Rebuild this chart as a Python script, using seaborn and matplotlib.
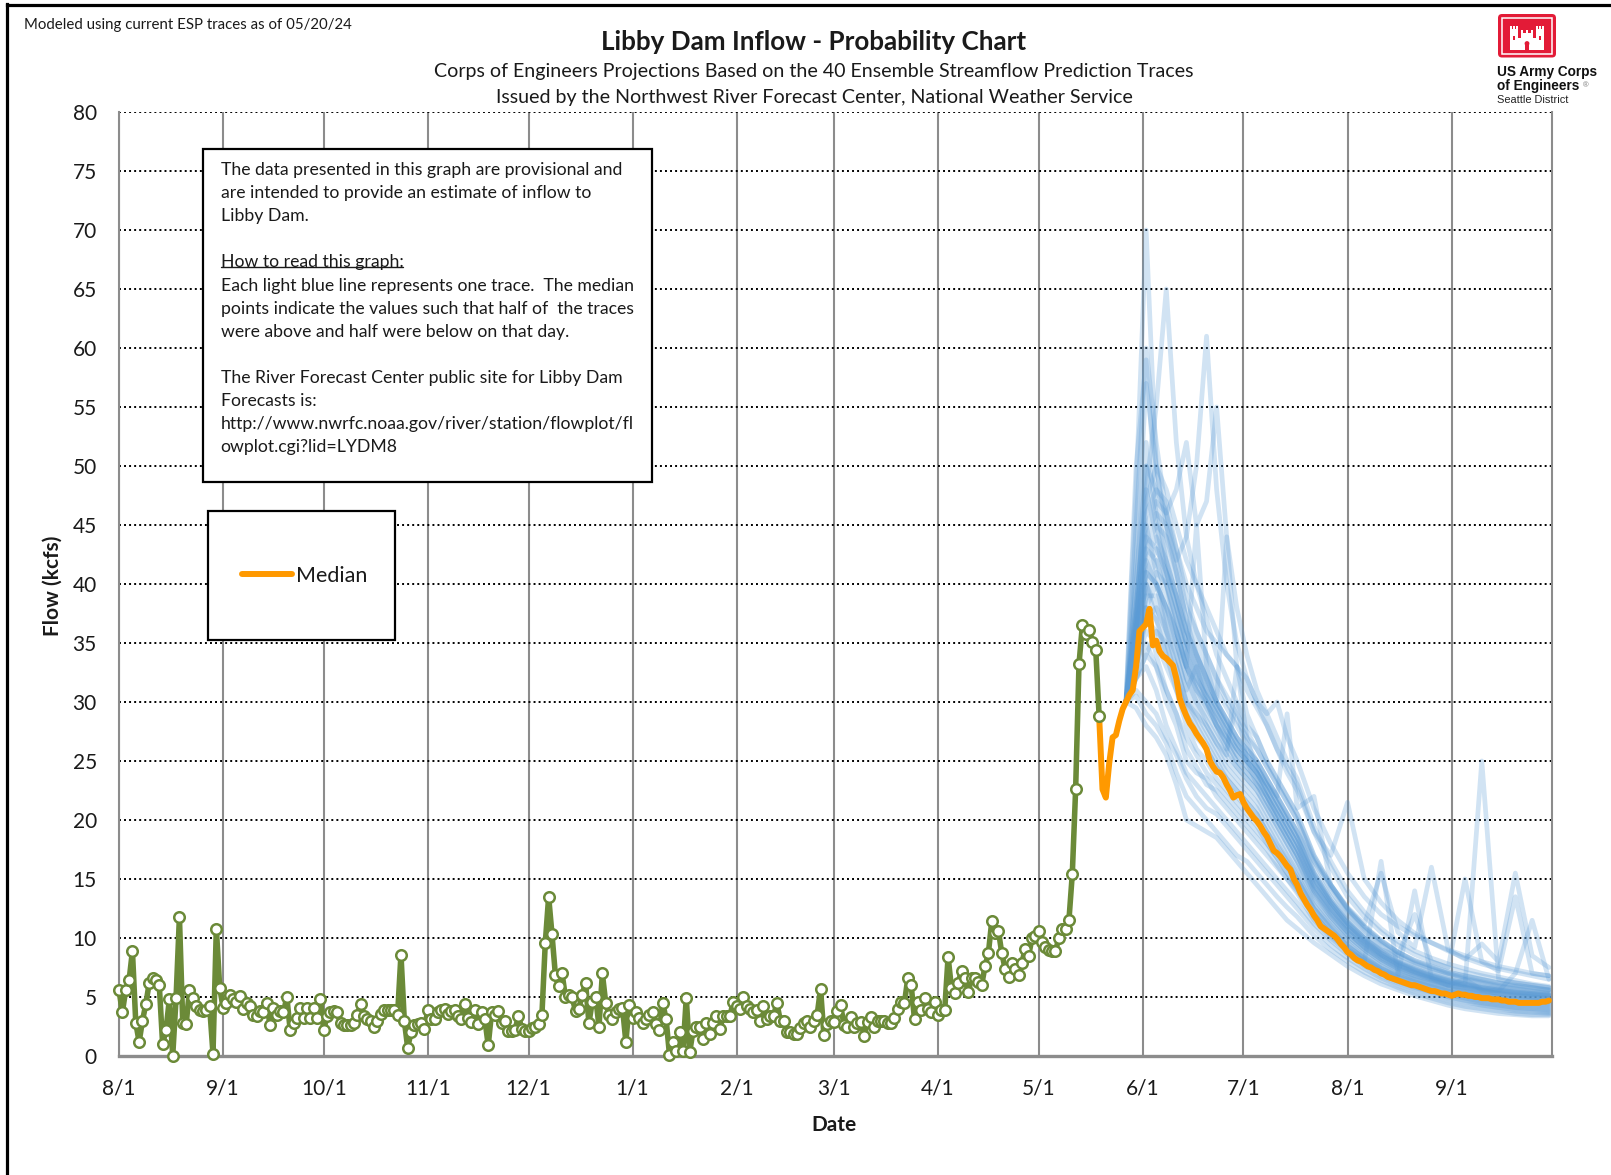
import numpy as np
import pandas as pd
import matplotlib
matplotlib.use("Agg")
import matplotlib.pyplot as plt
import matplotlib.dates as mdates
import seaborn as sns
from matplotlib.patches import Rectangle, FancyBboxPatch, Circle
from matplotlib.lines import Line2D
from matplotlib.ticker import MultipleLocator, FuncFormatter

# ---------------- DATA ----------------
OBS_START = "2023-08-01"
obs_aug = [5.6, 3.7, 5.6, 6.4, 8.9, 2.8, 1.2, 3.0, 4.4, 6.2, 6.6, 6.4, 6.0, 1.0, 2.2, 4.8, 0.0, 4.9, 11.8, 2.8,
           2.7, 5.6, 4.9, 4.2, 3.9, 3.8, 3.9, 4.2, 0.2, 10.8, 5.8]
obs_sep = [4.1, 4.5, 5.2, 4.8, 4.6, 5.1, 4.0, 4.5, 4.2, 3.5, 3.4, 3.8, 3.7, 4.5, 2.6, 4.1, 3.5, 3.8, 3.7, 5.0,
           2.2, 2.8, 3.2, 4.1, 3.2, 4.1, 3.2, 4.1, 3.2, 4.8]
obs_oct = [2.2, 3.4, 3.7, 3.8, 3.7, 2.8, 2.6, 2.6, 2.6, 2.8, 3.5, 4.4, 3.4, 3.1, 3.0, 2.5, 3.0, 3.6, 3.9, 3.9,
           3.9, 3.9, 3.5, 8.6, 3.0, 0.7, 2.0, 2.6, 2.7, 2.8, 2.3]
obs_nov = [3.9, 3.1, 3.1, 3.7, 3.9, 4.0, 3.6, 3.8, 3.9, 3.4, 3.1, 4.4, 3.2, 2.9, 3.9, 2.7, 3.7, 3.1, 0.9, 3.7,
           3.5, 3.8, 2.8, 3.0, 2.1, 2.1, 2.2, 3.4, 2.3, 2.1]
obs_dec = [2.1, 2.4, 2.5, 2.7, 3.5, 9.6, 13.5, 10.3, 6.9, 5.9, 7.0, 5.0, 5.2, 5.0, 3.8, 4.0, 5.2, 6.2, 2.8, 4.6,
           5.0, 2.5, 7.0, 4.5, 3.5, 3.1, 3.7, 4.0, 4.1, 1.2, 4.3]
obs_jan = [3.2, 3.7, 3.2, 2.8, 3.1, 3.5, 3.7, 2.7, 2.2, 4.5, 3.1, 0.1, 1.2, 0.4, 2.0, 0.4, 4.9, 0.3, 2.1, 2.5,
           2.5, 1.4, 2.8, 1.9, 2.8, 3.4, 2.3, 3.4, 3.4, 3.4, 4.6]
obs_feb = [4.2, 4.0, 5.0, 4.2, 4.0, 3.7, 3.9, 3.0, 4.2, 3.1, 3.4, 3.4, 4.5, 3.0, 3.0, 2.0, 2.0, 1.9, 1.9, 2.4,
           2.8, 3.0, 2.5, 3.0, 3.5, 5.7, 1.8, 2.7, 3.0]
obs_mar = [2.9, 3.8, 4.3, 2.6, 2.5, 3.3, 2.5, 2.8, 2.9, 1.7, 2.9, 3.3, 2.5, 3.0, 3.0, 3.0, 2.8, 2.8, 3.2, 4.0,
           4.6, 4.5, 6.6, 6.0, 3.1, 4.6, 3.9, 4.9, 4.0, 3.7, 4.6]
obs_apr = [3.5, 3.9, 3.9, 8.4, 5.8, 5.3, 6.2, 7.2, 6.6, 5.4, 6.6, 6.6, 6.3, 6.0, 7.6, 8.7, 11.4, 10.4, 10.6, 8.7,
           7.4, 6.7, 7.9, 7.4, 6.9, 7.9, 9.1, 8.5, 10.0, 10.2]
obs_may = [10.6, 9.7, 9.2, 9.0, 8.9, 8.9, 10.0, 10.8, 10.8, 11.5, 15.4, 22.6, 33.2, 36.5, 35.8, 36.1, 35.1, 34.4, 28.8]

MEDIAN_START = "2024-05-19"
median_may = [28.8, 22.6, 21.9, 24.8, 27.0, 27.2, 28.4, 29.4, 30.0, 30.6, 31.0, 33.0, 36.0]
median_jun = [36.3, 36.6, 37.9, 34.8, 35.2, 34.3, 33.9, 33.7, 33.4, 33.1, 32.0, 30.3, 29.5, 28.8, 28.2, 27.8, 27.3,
              26.9, 26.5, 26.0, 25.0, 24.5, 24.1, 24.0, 23.6, 23.0, 22.5, 21.9, 22.1, 22.2]
median_jul = [21.5, 21.0, 20.6, 20.2, 19.9, 19.5, 19.0, 18.6, 18.0, 17.4, 17.2, 16.9, 16.5, 16.1, 15.8, 15.0, 14.5,
              13.8, 13.3, 12.8, 12.4, 11.9, 11.5, 11.0, 10.8, 10.6, 10.4, 10.2, 9.9, 9.5, 9.2]
median_aug = [8.8, 8.6, 8.3, 8.1, 8.0, 7.8, 7.6, 7.5, 7.3, 7.2, 7.0, 6.9, 6.7, 6.6, 6.5, 6.4, 6.3, 6.2, 6.1, 6.0,
              6.0, 5.9, 5.8, 5.7, 5.6, 5.5, 5.5, 5.4, 5.3, 5.3, 5.2]
median_sep = [5.1, 5.2, 5.3, 5.2, 5.2, 5.1, 5.1, 5.0, 5.0, 4.9, 4.9, 4.9, 4.8, 4.8, 4.8, 4.7, 4.7, 4.6, 4.6, 4.6,
              4.5, 4.5, 4.5, 4.5, 4.5, 4.5, 4.5, 4.6, 4.6, 4.7]

TRACE_DATES = ["2024-05-27", "2024-05-30", "2024-06-02", "2024-06-05", "2024-06-08", "2024-06-11", "2024-06-14",
               "2024-06-17", "2024-06-20", "2024-06-23", "2024-06-26", "2024-06-29", "2024-07-02", "2024-07-05",
               "2024-07-08", "2024-07-11", "2024-07-14", "2024-07-17", "2024-07-22", "2024-07-27", "2024-08-01",
               "2024-08-06", "2024-08-11", "2024-08-16", "2024-08-21", "2024-08-26", "2024-08-31", "2024-09-05",
               "2024-09-10", "2024-09-15", "2024-09-20", "2024-09-25", "2024-09-30"]
TRACES = [
    [30, 29.5, 28, 27, 25.5, 23, 20, 19.5, 19, 18.5, 17.5, 16.5, 15.5, 14.5, 13.5, 12.5, 11.5, 10.8, 9.6, 8.6, 7.6, 6.8, 6.1, 5.6, 5.1, 4.7, 4.3, 4.0, 3.8, 3.6, 3.5, 3.4, 3.4],
    [30, 30.5, 29, 28, 26.5, 24, 22, 21, 20, 19, 18, 17, 16.5, 15.5, 14.5, 13.5, 12.6, 11.8, 10.2, 9.0, 8.0, 7.1, 6.4, 5.8, 5.3, 4.9, 4.5, 4.2, 4.0, 3.8, 3.6, 3.5, 3.5],
    [30, 31, 30, 29, 27, 25.5, 23.5, 22, 21, 20.5, 19.5, 18.5, 17.5, 16.5, 15.5, 14.5, 13.5, 12.5, 10.8, 9.4, 8.3, 7.4, 6.6, 6.0, 5.5, 5.1, 4.7, 4.4, 4.2, 4.0, 3.8, 3.7, 3.6],
    [30, 32, 33, 31, 28, 26, 24, 23, 22, 21, 20, 19, 18, 17, 16, 15, 14, 13, 11.2, 9.8, 8.6, 7.6, 6.8, 6.2, 5.7, 5.3, 4.9, 4.6, 4.3, 4.1, 3.9, 3.8, 3.7],
    [30, 33, 35, 33, 30, 28, 25, 24, 23.5, 22, 21, 20, 19, 18, 17, 16, 15, 13.8, 11.5, 10.0, 8.8, 7.8, 7.0, 6.3, 5.8, 5.4, 5.0, 4.7, 4.4, 4.2, 4.0, 3.9, 3.8],
    [30, 34, 38, 34, 31, 29, 26, 24.5, 23, 22.5, 21.5, 20.5, 19.5, 18.5, 17.5, 16.2, 15, 14, 11.8, 10.2, 9.0, 8.0, 7.1, 6.4, 5.9, 5.5, 5.1, 4.8, 4.5, 4.3, 4.1, 4.0, 3.9],
    [30, 33, 36, 35, 33, 31, 28, 26, 25, 23.5, 22.5, 21.5, 20.5, 19.5, 18, 16.8, 15.5, 14.3, 12.0, 10.4, 9.1, 8.1, 7.2, 6.5, 6.0, 5.6, 5.2, 4.9, 4.6, 4.4, 4.2, 4.1, 4.0],
    [30, 35, 40, 37, 34, 31, 29, 27, 26, 24.5, 23, 22, 21, 20, 18.5, 17.2, 16, 14.8, 12.4, 10.7, 9.3, 8.2, 7.3, 6.6, 6.1, 5.7, 5.3, 5.0, 4.7, 4.5, 4.3, 4.2, 4.1],
    [30, 32, 34, 36, 35, 32, 30, 28, 26.5, 25, 23.5, 22.5, 21.5, 20.5, 19, 17.5, 16.2, 15, 12.5, 10.9, 9.4, 8.3, 7.4, 6.7, 6.2, 5.8, 5.4, 5.1, 4.8, 4.6, 4.4, 4.3, 4.2],
    [30, 36, 42, 40, 36, 33, 30, 28.5, 27, 25.5, 24, 23, 22, 21, 19.5, 18, 16.7, 15.3, 12.8, 11.1, 9.6, 8.4, 7.5, 6.8, 6.3, 5.9, 5.5, 5.2, 4.9, 4.7, 4.5, 4.4, 4.3],
    [30, 34, 37, 38, 36, 34, 31, 29, 27.5, 26, 24.5, 23.5, 22.5, 21.5, 20, 18.5, 17, 15.6, 13.0, 11.3, 9.8, 8.6, 7.6, 6.9, 6.4, 6.0, 5.6, 5.3, 5.0, 4.8, 4.6, 4.5, 4.4],
    [30, 37, 45, 41, 37, 35, 32, 30, 28, 26.5, 25, 24, 23, 22, 20.5, 19, 17.5, 16, 13.3, 11.5, 10.0, 8.8, 7.8, 7.0, 6.5, 6.1, 5.7, 5.4, 5.1, 4.9, 4.7, 4.6, 4.5],
    [30, 33, 38, 40, 38, 35, 33, 31, 29, 27.5, 26, 24.5, 23.5, 22.5, 21, 19.5, 18, 16.5, 13.6, 11.8, 10.2, 9.0, 8.0, 7.2, 6.6, 6.2, 5.8, 5.5, 5.2, 5.0, 4.8, 4.7, 4.6],
    [30, 38, 48, 44, 40, 36, 33, 31, 30, 28, 26.5, 25, 24, 23, 21.5, 20, 18.5, 17, 14.0, 12.1, 10.5, 9.2, 8.2, 7.4, 6.8, 6.4, 6.0, 5.7, 5.4, 5.2, 5.0, 4.9, 4.8],
    [30, 35, 41, 43, 41, 38, 34, 32, 30.5, 29, 27, 25.5, 24.5, 23.5, 22, 20.5, 19, 17.5, 14.4, 12.4, 10.8, 9.5, 8.4, 7.6, 7.0, 6.5, 6.1, 5.8, 5.5, 5.3, 5.1, 5.0, 4.9],
    [30, 40, 52, 46, 42, 38, 35, 33, 31, 29.5, 28, 26.5, 25, 24, 22.5, 21, 19.5, 18, 14.8, 12.7, 11.0, 9.7, 8.6, 7.8, 7.2, 6.7, 6.3, 6.0, 5.7, 5.5, 5.3, 5.2, 5.1],
    [30, 36, 43, 45, 44, 41, 37, 34, 32, 30, 28.5, 27, 26, 25, 23.5, 22, 20.5, 19, 15.5, 13.2, 11.4, 10.0, 8.9, 8.0, 7.4, 6.9, 6.5, 6.2, 5.9, 5.7, 5.5, 5.3, 5.2],
    [30, 42, 57, 50, 45, 41, 37, 35, 33, 31, 29.5, 28, 26.5, 25, 23.5, 22, 20.5, 19, 15.8, 13.5, 11.7, 10.3, 9.1, 8.2, 7.6, 7.1, 6.7, 6.4, 6.1, 5.8, 5.6, 5.4, 5.3],
    [30, 37, 46, 48, 47, 43, 39, 36, 34, 32, 30, 28.5, 27, 26, 24.5, 23, 21.5, 20, 16.5, 14.0, 12.0, 10.6, 9.4, 8.5, 7.8, 7.3, 6.9, 6.5, 6.2, 5.9, 5.7, 5.5, 5.4],
    [30, 45, 60, 52, 46, 42, 38, 36, 34, 32, 30.5, 29, 27.5, 26, 24.5, 23, 21.5, 20, 16.8, 14.3, 12.3, 10.8, 9.6, 8.6, 7.9, 7.4, 7.0, 6.6, 6.3, 6.0, 5.8, 5.6, 5.5],
    [30, 34, 40, 38, 36, 34, 31, 33, 30, 28, 26, 30, 25, 23, 22, 20, 18.5, 17, 14, 12, 10.5, 9.2, 8.2, 7.4, 7.0, 6.5, 6.0, 6.5, 5.6, 5.3, 5.2, 5.0, 4.9],
    [30, 48, 70, 50, 44, 40, 36, 34, 32, 30, 28.5, 27, 25.5, 24.5, 23, 21.5, 20, 18.5, 15.5, 13.2, 11.4, 10.0, 8.9, 8.0, 7.4, 6.9, 6.5, 6.1, 5.8, 5.6, 5.4, 5.2, 5.1],
    [30, 38, 48, 55, 65, 52, 44, 40, 37, 34, 32, 30, 28, 27, 25, 23.5, 22, 20.5, 17, 14.5, 12.5, 11.0, 9.8, 8.8, 8.0, 7.5, 7.0, 6.7, 6.4, 6.1, 5.9, 5.7, 5.6],
    [30, 36, 44, 46, 45, 42, 44, 50, 61, 48, 40, 35, 32, 30, 28, 26, 24.5, 23, 19, 16, 13.5, 11.8, 10.5, 9.4, 8.6, 8.0, 7.5, 7.1, 6.8, 6.5, 6.2, 6.0, 5.8],
    [30, 37, 45, 47, 46, 48, 52, 45, 47, 55, 44, 38, 34, 31, 29, 27, 25, 23.5, 19.5, 16.5, 14, 12.2, 10.8, 9.7, 8.9, 8.3, 7.8, 7.4, 7.0, 6.7, 6.4, 6.1, 5.9],
    [30, 38, 47, 50, 48, 45, 42, 40, 38, 36, 34, 33, 31, 29.5, 28, 26, 24, 22.5, 19, 17, 21.5, 15, 13, 11.5, 10.4, 9.6, 8.9, 8.3, 7.8, 7.4, 7.1, 6.8, 6.5],
    [30, 35, 42, 44, 42, 39, 36, 34, 32, 30, 28.5, 27, 26, 25, 23.5, 22, 20.5, 19, 16.5, 14.5, 12.6, 11.2, 15.5, 10.5, 9.2, 16, 9.0, 8.2, 9.5, 8.0, 15.5, 8.5, 7.5],
    [30, 33, 39, 41, 40, 37, 34, 32, 30, 28.5, 27, 25.5, 24.5, 23.5, 22, 20.5, 19, 17.5, 14.5, 12.5, 10.8, 9.5, 8.5, 7.7, 7.1, 6.6, 6.2, 6.0, 25, 6.5, 6.2, 6.0, 5.8],
    [30, 36, 41, 40, 38, 36, 33, 31.5, 30, 28, 27, 26, 25, 24, 22.5, 21, 19.5, 18, 15, 13, 11.3, 10.0, 9.0, 8.5, 12.0, 8.0, 7.5, 15, 8.0, 7.2, 13.5, 7.0, 6.8],
    [30, 40, 50, 48, 46, 43, 40, 38, 36, 35, 34, 33, 32, 30, 29, 30, 27, 25, 21, 18, 15.5, 13.5, 12, 11, 10.2, 9.6, 9.0, 8.5, 8.0, 7.6, 7.3, 7.0, 6.8],
    [30, 34, 38, 37, 35, 33, 30, 29, 28, 26.5, 25.5, 33, 27, 24, 22, 20.5, 19, 17.5, 14.5, 12.5, 10.8, 9.5, 8.5, 7.7, 7.1, 6.6, 6.2, 5.9, 5.6, 5.4, 5.2, 5.1, 5.0],
    [30, 36, 43, 42, 40, 37, 34, 32, 30.5, 29, 27.5, 26, 25, 24, 23, 22, 29, 21, 22, 14.5, 12.5, 11.0, 9.8, 8.8, 8.1, 7.6, 7.1, 6.8, 6.5, 6.2, 6.0, 5.8, 5.6],
    [30, 33, 37, 36, 34, 32, 29, 27.5, 26, 24.5, 23.5, 22.5, 21.5, 20.5, 19, 17.8, 16.5, 15, 12.5, 10.8, 9.3, 8.3, 7.4, 6.8, 14, 6.6, 6.0, 5.6, 5.3, 5.1, 4.9, 4.8, 4.7],
    [30, 34, 39, 39, 37, 35, 32, 30, 28.5, 27, 25.5, 24.5, 23.5, 22.5, 21, 19.5, 18, 16.5, 13.8, 11.8, 10.2, 9.0, 8.0, 7.3, 6.8, 6.4, 6.0, 5.8, 5.6, 5.5, 7.0, 11.5, 6.5],
    [30, 36, 50, 45, 41, 38, 35, 33, 31, 29.5, 28, 26.5, 25.5, 24.5, 23, 21.5, 20, 18.5, 15.3, 13, 11.2, 9.8, 8.7, 7.9, 7.3, 6.8, 6.4, 6.1, 5.8, 5.6, 5.4, 5.3, 5.2],
    [30, 50, 59, 47, 42, 39, 35, 33, 31, 29, 27.5, 26, 25, 24, 22.5, 21, 19.5, 18, 15, 12.8, 11, 9.7, 8.6, 7.8, 7.2, 6.7, 6.3, 6.0, 5.7, 5.5, 5.3, 5.2, 5.1],
    [30, 35, 40, 42, 39, 36, 33, 31, 29.5, 28, 26.5, 25, 24, 23, 21.5, 20, 18.5, 17, 14.2, 12.2, 10.5, 9.3, 8.3, 7.5, 6.9, 6.5, 6.1, 5.8, 5.5, 5.3, 5.1, 5.0, 4.9],
    [30, 37, 44, 43, 41, 39, 36, 34, 32, 30, 44, 33, 29, 27, 25, 23.5, 22, 20.5, 17, 14.5, 12.4, 10.9, 9.7, 8.8, 8.1, 7.6, 7.1, 6.8, 6.5, 6.2, 6.0, 5.8, 5.6],
    [30, 34, 41, 40, 38, 36, 33, 45, 33, 30, 28, 26.5, 25.5, 24.5, 23, 21.5, 20, 18.5, 15.2, 13, 11.2, 9.8, 8.7, 7.9, 7.3, 6.8, 6.4, 6.1, 5.8, 5.6, 5.4, 5.3, 5.2],
    [30, 32, 34, 33, 31, 29, 27, 25.5, 24, 23, 22, 21, 20, 19, 18, 16.8, 15.5, 14.2, 12, 10.3, 9.0, 8.0, 16.5, 7.0, 6.5, 6.1, 5.7, 5.4, 5.2, 5.0, 4.8, 4.7, 4.6],
]

Y_TICKS = list(range(0, 81, 5))
TITLE = "Libby Dam Inflow - Probability Chart"
SUBTITLE_1 = "Corps of Engineers Projections Based on the 40 Ensemble Streamflow Prediction Traces"
SUBTITLE_2 = "Issued by the Northwest River Forecast Center, National Weather Service"
NOTE = "Modeled using current ESP traces as of 05/20/24"
INFO_LINES = [
    "The data presented in this graph are provisional and",
    "are intended to provide an estimate of inflow to",
    "Libby Dam.",
    "",
    "How to read this graph:",
    "Each light blue line represents one trace.  The median",
    "points indicate the values such that half of  the traces",
    "were above and half were below on that day.",
    "",
    "The River Forecast Center public site for Libby Dam",
    "Forecasts is:",
    "http://www.nwrfc.noaa.gov/river/station/flowplot/fl",
    "owplot.cgi?lid=LYDM8",
]

# ---------------- TABLES ----------------
obs_values = obs_aug + obs_sep + obs_oct + obs_nov + obs_dec + obs_jan + obs_feb + obs_mar + obs_apr + obs_may
obs_df = pd.DataFrame({"date": pd.date_range(OBS_START, periods=len(obs_values), freq="D"),
                       "flow": obs_values})
median_values = median_may + median_jun + median_jul + median_aug + median_sep
median_df = pd.DataFrame({"date": pd.date_range(MEDIAN_START, periods=len(median_values), freq="D"),
                          "flow": median_values})
rows = []
for i, tr in enumerate(TRACES):
    assert len(tr) == len(TRACE_DATES), (i, len(tr))
    for d, v in zip(TRACE_DATES, tr):
        rows.append((pd.Timestamp(d), v, i))
trace_df = pd.DataFrame(rows, columns=["date", "flow", "trace"])

# ---------------- STYLE ----------------
W, H = 1611, 1175
sns.set_style("white")
plt.rcParams["font.family"] = ["Lato", "DejaVu Sans"]
BLUE = "#5B9BD5"
ORANGE = "#FF9900"
GREEN = "#6B8A38"
GRAY = "#8C8C8C"
TXT = "#1a1a1a"

fig = plt.figure(figsize=(W / 100, H / 100), dpi=100)
fig.patch.set_facecolor("white")
X0, X1, Y0, Y1 = 119, 1552, 1056, 112
ax = fig.add_axes([X0 / W, 1 - Y0 / H, (X1 - X0) / W, (Y0 - Y1) / H])
ax.set_facecolor("white")

sns.lineplot(data=trace_df, x="date", y="flow", units="trace", estimator=None, color=BLUE,
             alpha=0.28, lw=3.4, legend=False, sort=False, ax=ax, zorder=2)
sns.lineplot(data=median_df, x="date", y="flow", color=ORANGE, lw=4.3, ax=ax, zorder=3)
median_line = ax.get_lines()[-1]
sns.lineplot(data=obs_df, x="date", y="flow", color=GREEN, lw=4.0, marker="o", markersize=7.6,
             markerfacecolor="white", markeredgecolor=GREEN, markeredgewidth=1.8, ax=ax,
             zorder=4, clip_on=False)

ax.set_xlim(pd.Timestamp("2023-08-01"), pd.Timestamp("2024-09-30 22:00"))
ax.set_ylim(0, 80)
ax.set_yticks(Y_TICKS)
ax.yaxis.set_minor_locator(MultipleLocator(1))
ax.xaxis.set_major_locator(mdates.MonthLocator())
ax.xaxis.set_major_formatter(FuncFormatter(
    lambda v, p: f"{mdates.num2date(v).month}/{mdates.num2date(v).day}"))

ax.set_axisbelow(True)
ax.grid(axis="x", which="major", color=GRAY, lw=1.5, ls="-")
ax.grid(axis="y", which="major", color="black", lw=1.4, ls=(0, (1, 1.6)))
ax.tick_params(axis="y", which="major", direction="out", length=7, width=1, color="black",
               labelsize=15, labelcolor=TXT, pad=9)
ax.tick_params(axis="y", which="minor", direction="in", length=5, width=1, color=GRAY)
ax.tick_params(axis="x", which="major", direction="out", length=6, width=1.5, color=GRAY,
               labelsize=15, labelcolor=TXT, pad=10)
for s in ["left", "right"]:
    ax.spines[s].set_color(GRAY)
    ax.spines[s].set_linewidth(1.5)
ax.spines["bottom"].set_color(GRAY)
ax.spines["bottom"].set_linewidth(2.4)
ax.spines["top"].set_visible(False)

ax.set_xlabel("Date", fontsize=15, fontweight="bold", color=TXT)
ax.set_ylabel("Flow (kcfs)", fontsize=15, fontweight="bold", color=TXT)
ax.xaxis.set_label_coords((834 - X0) / (X1 - X0), -(1115 - Y0) / (Y0 - Y1))
ax.yaxis.set_label_coords(-(X0 - 63) / (X1 - X0), (Y0 - 586) / (Y0 - Y1))

# ---------------- BOXES ----------------
def fx(x):
    return x / W

def fy(y):
    return 1 - y / H

ax.add_patch(Rectangle((fx(202.7), fy(481.7)), (651.7 - 202.7) / W, (481.7 - 149.3) / H,
                       transform=fig.transFigure, facecolor="white", edgecolor="black",
                       lw=1.6, zorder=4.5, clip_on=False))
ax.add_patch(Rectangle((fx(208.3), fy(640)), (395 - 208.3) / W, (640 - 511) / H,
                       transform=fig.transFigure, facecolor="white", edgecolor="black",
                       lw=1.6, zorder=4.5, clip_on=False))

LEG_FS = 15.5
fs_px = LEG_FS * 100 / 72
leg = ax.legend(handles=[median_line], labels=["Median"], loc="center left",
                bbox_to_anchor=(fx(241.7), fy(576)), bbox_transform=fig.transFigure,
                frameon=False, borderpad=0, borderaxespad=0, handlelength=50 / fs_px,
                handletextpad=4 / fs_px, fontsize=LEG_FS)
for t in leg.get_texts():
    t.set_color(TXT)
leg.set_zorder(6)

info_texts = []
for k, line in enumerate(INFO_LINES):
    y = 170 + 23.1 * k
    t = ax.text(fx(220.7), fy(y), line, transform=fig.transFigure, fontsize=12.5,
                va="center", ha="left", color=TXT, zorder=6)
    info_texts.append(t)

# ---------------- TITLES ----------------
t_title = fig.text(fx(814), fy(42), TITLE, fontsize=18, fontweight="bold", ha="center", va="center", color=TXT)
t_sub1 = fig.text(fx(814), fy(71), SUBTITLE_1, fontsize=13, ha="center", va="center", color=TXT)
t_sub2 = fig.text(fx(814), fy(97), SUBTITLE_2, fontsize=13, ha="center", va="center", color=TXT)
t_note = fig.text(fx(23.6), fy(25), NOTE, fontsize=10, ha="left", va="center", color=TXT)

# ---------------- LOGO ----------------
lax = fig.add_axes([fx(1497), fy(58.5), 60 / W, 45.5 / H])
lax.set_xlim(0, 60)
lax.set_ylim(0, 45.5)
lax.axis("off")
RED = "#E31B37"
lax.add_patch(FancyBboxPatch((1, 1), 58, 43.5, boxstyle="round,pad=0,rounding_size=4",
                             fc=RED, ec="none"))
lax.add_patch(Rectangle((5, 4.5), 50, 36.5, fill=False, ec="white", lw=1.1))
for r in [(13, 9, 8, 21), (39, 9, 8, 21), (24, 9, 12, 17), (21, 9, 3, 12), (36, 9, 3, 12),
          (13, 30, 2, 3), (16, 30, 2, 3), (19, 30, 2, 3), (39, 30, 2, 3), (42, 30, 2, 3),
          (45, 30, 2, 3), (24, 26, 2.4, 3), (28.8, 26, 2.4, 3), (33.6, 26, 2.4, 3)]:
    lax.add_patch(Rectangle(r[:2], r[2], r[3], fc="white", ec="none"))
for r in [(27.6, 9, 4.8, 6), (16, 19, 2, 4), (42, 19, 2, 4)]:
    lax.add_patch(Rectangle(r[:2], r[2], r[3], fc=RED, ec="none"))
lax.add_patch(Circle((30, 15), 2.4, fc=RED, ec="none"))

fig.text(fx(1497), fy(72), "US Army Corps", fontsize=9.8, fontweight="bold",
         family="Liberation Sans", ha="left", va="center", color="#111111")
t_eng = fig.text(fx(1497), fy(86), "of Engineers", fontsize=9.8, fontweight="bold",
                 family="Liberation Sans", ha="left", va="center", color="#111111")
fig.text(fx(1497), fy(100), "Seattle District", fontsize=7.9, family="Liberation Sans",
         ha="left", va="center", color="#222222")

# ---------------- FRAME ----------------
fig.add_artist(Line2D([fx(6.5), fx(6.5)], [0, fy(3.5)], transform=fig.transFigure,
                      color="black", lw=2.3, solid_capstyle="projecting"))
fig.add_artist(Line2D([fx(6.5), 1], [fy(4.5), fy(4.5)], transform=fig.transFigure,
                      color="black", lw=2.3, solid_capstyle="projecting"))

# ---------------- FIT TEXT WIDTHS ----------------
fig.canvas.draw()
r = fig.canvas.get_renderer()

def fit(t, target):
    w = t.get_window_extent(r).width
    if w > 0:
        t.set_fontsize(t.get_fontsize() * target / w)

fit(t_title, 425)
fit(t_sub1, 758)
fit(t_sub2, 634)
fit(t_note, 327)
w0 = info_texts[0].get_window_extent(r).width
scale = 403 / w0
for t in info_texts:
    t.set_fontsize(t.get_fontsize() * scale)

fig.canvas.draw()
r = fig.canvas.get_renderer()
bb = info_texts[4].get_window_extent(r)
uy = bb.y0 + 3.0
fig.add_artist(Line2D([bb.x0 / W, bb.x1 / W], [uy / H, uy / H], transform=fig.transFigure,
                      color=TXT, lw=1.0, zorder=7))
be = t_eng.get_window_extent(r)
fig.text((be.x1 + 4) / W, fy(86), "®", fontsize=5.5, family="Liberation Sans",
         ha="left", va="center", color="#777777")

fig.savefig("out.png", dpi=100, facecolor="white")
